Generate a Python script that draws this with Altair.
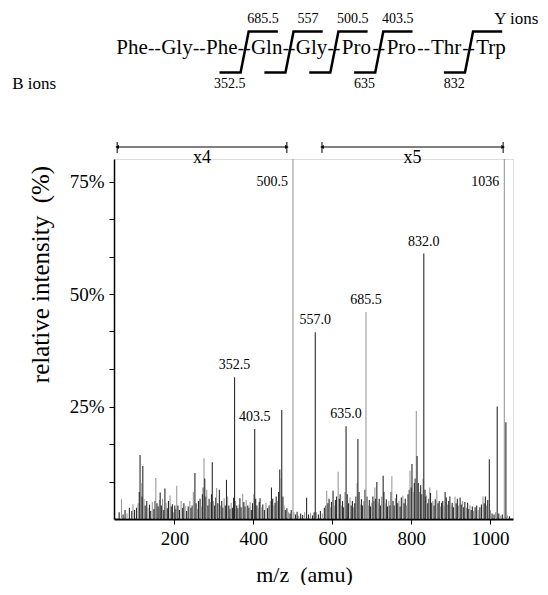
import altair as alt
import pandas as pd

# ---------------- spectrum data ----------------
noise_mz = [60, 66, 70, 75, 80, 86, 92, 95, 99, 104, 108, 111, 113, 116, 118, 120, 123, 126, 130, 133,
            137, 140, 144, 148, 151, 153, 156, 159, 162, 164, 167, 170, 173, 176, 179, 182, 185, 189, 192, 195,
            198, 201, 204, 206, 209, 213, 217, 221, 224, 227, 231, 235, 239, 242, 245, 248, 252, 255, 258, 261,
            265, 268, 271, 273, 275, 277, 280, 282, 285, 288, 291, 294, 296, 299, 302, 305, 307, 310, 314, 317,
            320, 323, 326, 329, 332, 335, 338, 341, 344, 347, 350, 355, 358, 361, 364, 366, 369, 373, 376, 379,
            382, 386, 389, 392, 395, 398, 401, 406, 409, 412, 415, 417, 420, 424, 428, 432, 436, 440, 443, 446,
            449, 452, 455, 458, 461, 464, 467, 470, 472, 475, 478, 481, 485, 489, 493, 496, 503, 507, 511, 515,
            520, 525, 530, 535, 540, 545, 550, 554, 560, 565, 570, 575, 580, 584, 586, 589, 592, 595, 598, 602,
            605, 608, 611, 615, 618, 620, 623, 626, 629, 632, 638, 641, 645, 648, 651, 654, 657, 660, 663, 665,
            668, 671, 674, 677, 680, 683, 688, 691, 694, 697, 700, 703, 706, 708, 710, 713, 716, 719, 722, 725,
            729, 731, 734, 737, 740, 743, 746, 749, 751, 754, 757, 760, 763, 766, 769, 772, 775, 779, 782, 785,
            788, 792, 795, 797, 800, 802, 805, 808, 810, 813, 815, 818, 821, 824, 827, 830, 835, 837, 839, 842,
            845, 847, 849, 852, 855, 858, 861, 865, 868, 871, 874, 877, 880, 883, 886, 889, 892, 895, 898, 901,
            904, 907, 911, 914, 917, 920, 924, 927, 930, 933, 936, 940, 943, 946, 949, 952, 955, 958, 962, 966,
            970, 974, 978, 982, 985, 988, 991, 994, 998, 1001, 1005, 1010, 1014, 1018, 1022, 1027, 1031, 1040, 1044, 1049]
noise_int = [1.5, 4.4, 1.0, 2.0, 1.2, 2.5, 1.8, 3.3, 2.0, 2.5, 3.5, 6.0, 14.2, 8.0, 5.0, 11.8, 4.5, 3.0, 4.0, 2.5,
             3.2, 1.8, 3.8, 2.2, 4.0, 9.1, 3.5, 2.8, 4.2, 5.9, 3.0, 4.5, 2.0, 6.8, 3.6, 2.4, 4.0, 5.2, 2.8, 3.3,
             1.5, 3.0, 2.2, 7.4, 3.0, 2.0, 4.0, 2.5, 3.5, 3.0, 1.8, 2.8, 4.0, 2.5, 3.0, 6.0, 10.2, 3.5, 2.2, 4.0,
             4.5, 2.8, 5.5, 7.0, 13.5, 9.0, 5.0, 6.5, 3.0, 4.5, 3.8, 5.5, 12.6, 4.0, 3.0, 4.8, 6.9, 3.5, 6.5, 3.0,
             4.0, 2.5, 4.6, 3.0, 8.7, 5.0, 3.0, 2.2, 3.6, 2.5, 4.7, 4.0, 3.0, 2.4, 3.2, 4.6, 2.6, 5.6, 3.8, 2.8,
             4.2, 3.0, 2.5, 3.8, 2.0, 3.5, 5.5, 4.5, 3.0, 2.4, 3.8, 4.6, 2.6, 3.2, 2.0, 3.6, 2.4, 3.0, 4.0, 7.0,
             4.5, 3.0, 3.6, 5.0, 4.0, 6.0, 11.0, 9.0, 24.2, 5.0, 3.0, 2.0, 2.4, 1.5, 1.2, 2.0, 1.5, 1.0, 1.6, 0.8,
             1.2, 0.9, 1.5, 4.7, 1.0, 1.4, 0.8, 1.5, 1.5, 1.0, 1.8, 1.2, 2.5, 3.0, 6.3, 3.5, 4.5, 2.6, 3.8, 6.3,
             3.0, 4.2, 5.0, 10.5, 4.5, 5.5, 3.0, 4.0, 2.6, 6.0, 5.5, 3.5, 4.8, 3.0, 4.0, 2.6, 3.5, 5.0, 8.0, 17.8,
             6.0, 3.2, 4.4, 3.0, 4.0, 6.5, 5.0, 3.0, 4.2, 2.8, 3.6, 5.0, 4.0, 7.0, 4.5, 8.2, 3.6, 4.5, 3.0, 5.0,
             9.6, 6.0, 3.5, 4.4, 2.8, 4.0, 3.0, 6.0, 9.5, 4.0, 3.0, 4.6, 5.5, 3.5, 4.0, 2.8, 4.8, 5.2, 3.5, 4.5,
             3.0, 5.5, 6.5, 10.7, 7.0, 12.2, 6.0, 8.0, 9.0, 24.0, 14.0, 8.0, 6.0, 7.5, 5.5, 9.0, 6.5, 5.0, 5.2, 3.5,
             4.5, 7.0, 5.8, 3.6, 4.0, 3.0, 4.4, 6.4, 3.5, 4.0, 2.8, 3.6, 4.0, 3.0, 6.0, 4.8, 3.2, 4.0, 5.0, 3.0,
             3.6, 2.6, 5.0, 3.5, 4.5, 3.0, 4.8, 3.2, 4.0, 2.6, 3.8, 2.5, 3.6, 2.2, 3.0, 2.0, 2.8, 1.8, 2.6, 3.0,
             2.0, 2.6, 3.2, 5.0, 3.5, 5.0, 3.0, 4.2, 13.3, 2.0, 1.2, 1.0, 1.5, 25.0, 1.2, 0.8, 1.0, 21.5, 0.8, 0.6]

peak_mz = [352.5, 403.5, 500.5, 557.0, 635.0, 685.5, 832.0, 1036.0]
peak_int = [31.5, 20.0, 100.0, 41.5, 20.6, 46.0, 59.0, 100.0]
peak_tone = ["dark", "dark", "light", "dark", "dark", "light", "dark", "light"]

label_mz = [352.5, 403.5, 557.0, 635.0, 685.5, 832.0]
label_int = [31.5, 20.0, 41.5, 20.6, 46.0, 59.0]
label_txt = ["352.5", "403.5", "557.0", "635.0", "685.5", "832.0"]
off_mz = [500.5, 1036.0]
off_txt = ["500.5", "1036"]

bracket_start = [55, 574]
bracket_end = [485, 1033]
bracket_txt = ["x4", "x5"]

y_ticks = [8.333, 16.667, 25, 33.333, 41.667, 50, 58.333, 66.667, 75]
x_ticks = [200, 400, 600, 800, 1000]

# ---------------- peptide diagram data ----------------
residues = ["Phe", "Gly", "Phe", "Gln", "Gly", "Pro", "Pro", "Thr", "Trp"]
bonds = [2.5, 3.5, 4.5, 5.5, 7.5]
y_ion = ["685.5", "557", "500.5", "403.5", ""]
b_ion = ["352.5", "", "", "635", "832"]

FONT = "Liberation Serif"

spec_df = pd.DataFrame({
    "mz": noise_mz + peak_mz,
    "inten": noise_int + peak_int,
    "tone": [("dark" if i % 3 != 1 else "light") for i in range(len(noise_mz))] + peak_tone,
})
lab_df = pd.DataFrame({"mz": label_mz, "inten": label_int, "txt": label_txt})
off_df = pd.DataFrame({"mz": off_mz, "txt": off_txt, "inten": [75] * len(off_mz)})
br_df = pd.DataFrame({"s": bracket_start, "e": bracket_end, "txt": bracket_txt})
br_df["mid"] = (br_df["s"] + br_df["e"]) / 2

xs = alt.Scale(domain=[47, 1058], nice=False, zero=False)
ys = alt.Scale(domain=[0, 80], nice=False)

spectrum = alt.Chart(spec_df).mark_rule(clip=True, strokeWidth=1.1).encode(
    x=alt.X("mz:Q", scale=xs, axis=alt.Axis(
        values=x_ticks, format="d", title="m/z\u00a0\u00a0(amu)", labelFont=FONT, labelFontSize=19,
        titleFont=FONT, titleFontSize=22, titleFontWeight="normal", tickSize=5,
        labelPadding=5, tickColor="black", domainColor="black", domainWidth=1.8,
        labelColor="black", titleColor="black", titleX=190, titleY=55,
        titleBaseline="middle", grid=False)),
    y=alt.Y("inten:Q", scale=ys, axis=alt.Axis(
        values=y_ticks, labelExpr="datum.value % 25 === 0 ? datum.value + '%' : ''",
        title="relative intensity\u00a0\u00a0(%)", labelFont=FONT, labelFontSize=19,
        titleFont=FONT, titleFontSize=25, titleFontWeight="normal", tickSize=5,
        labelPadding=5, tickColor="black", domainColor="black", domainWidth=1.5,
        labelColor="black", titleColor="black", titleX=-74, titleY=115, titleLimit=400,
        titleAngle=-90, titleAlign="center", titleBaseline="middle", grid=False)),
    y2=alt.datum(0),
    color=alt.Color("tone:N", scale=alt.Scale(domain=["dark", "light"], range=["#2a2a2a", "#9a9a9a"]), legend=None),
)

labels = alt.Chart(lab_df).mark_text(font=FONT, fontSize=14, baseline="middle", dy=-12, color="black").encode(
    x=alt.X("mz:Q", scale=xs, axis=None), y=alt.Y("inten:Q", scale=ys, axis=None), text="txt:N")
off_labels = alt.Chart(off_df).mark_text(font=FONT, fontSize=14, baseline="middle", align="right", dx=-5, color="black").encode(
    x=alt.X("mz:Q", scale=xs, axis=None), y=alt.Y("inten:Q", scale=ys, axis=None), text="txt:N")

br_line = alt.Chart(br_df).mark_rule(color="black", strokeWidth=1).encode(
    x=alt.X("s:Q", scale=xs, axis=None), x2="e:Q", y=alt.value(-12))
br_end1 = alt.Chart(br_df).mark_rule(color="black", strokeWidth=1).encode(
    x=alt.X("s:Q", scale=xs, axis=None), y=alt.value(-17), y2=alt.value(-6))
br_end2 = alt.Chart(br_df).mark_rule(color="black", strokeWidth=1).encode(
    x=alt.X("e:Q", scale=xs, axis=None), y=alt.value(-17), y2=alt.value(-6))
br_arr1 = alt.Chart(br_df).mark_point(shape="triangle-left", filled=True, size=18, color="black", opacity=1, dx=3).encode(
    x=alt.X("s:Q", scale=xs, axis=None), y=alt.value(-12))
br_arr2 = alt.Chart(br_df).mark_point(shape="triangle-right", filled=True, size=18, color="black", opacity=1, dx=-3).encode(
    x=alt.X("e:Q", scale=xs, axis=None), y=alt.value(-12))
br_txt = alt.Chart(br_df).mark_text(font=FONT, fontSize=18, baseline="middle", color="black").encode(
    x=alt.X("mid:Q", scale=xs, axis=None), y=alt.value(-1), text="txt:N")

# peptide diagram, own scales
px = alt.Scale(domain=[0, 8], range=[18, 377])
py = alt.Scale(domain=[-1, 1], range=[-70, -152])
LOW, HIGH, YLAB, BLAB = -0.6, 0.4, 0.7, -0.88

res_df = pd.DataFrame({"i": list(range(len(residues))), "r": residues, "lvl": 0.0})
dash_df = pd.DataFrame({"i": [k + 0.5 for k in range(len(residues) - 1)], "r": "--", "lvl": 0.0})
pts = []
for k, b in enumerate(bonds):
    pts += [
        {"id": k, "o": 0, "x": b - 0.55, "y": LOW},
        {"id": k, "o": 1, "x": b - 0.08, "y": LOW},
        {"id": k, "o": 2, "x": b + 0.1, "y": HIGH},
        {"id": k, "o": 3, "x": b + 0.75, "y": HIGH},
    ]
mark_df = pd.DataFrame(pts)
ylab_df = pd.DataFrame({"x": [b + 0.42 for b in bonds], "t": y_ion, "lvl": YLAB})
blab_df = pd.DataFrame({"x": [b - 0.32 for b in bonds], "t": b_ion, "lvl": BLAB})
ion_df = pd.DataFrame({"x": [8.07, -2.67], "t": ["Y ions", "B ions"], "lvl": [YLAB, BLAB]})

res_t = alt.Chart(res_df).mark_text(font=FONT, fontSize=21, baseline="middle", color="black").encode(
    x=alt.X("i:Q", scale=px, axis=None), y=alt.Y("lvl:Q", scale=py, axis=None), text="r:N")
dash_t = alt.Chart(dash_df).mark_text(font=FONT, fontSize=19, baseline="middle", color="black").encode(
    x=alt.X("i:Q", scale=px, axis=None), y=alt.Y("lvl:Q", scale=py, axis=None), text="r:N")
marks = alt.Chart(mark_df).mark_line(color="black", strokeWidth=2.5, strokeJoin="miter").encode(
    x=alt.X("x:Q", scale=px, axis=None), y=alt.Y("y:Q", scale=py, axis=None), detail="id:N", order="o:Q")
ylab_t = alt.Chart(ylab_df).mark_text(font=FONT, fontSize=14, baseline="middle", color="black").encode(
    x=alt.X("x:Q", scale=px, axis=None), y=alt.Y("lvl:Q", scale=py, axis=None), text="t:N")
blab_t = alt.Chart(blab_df).mark_text(font=FONT, fontSize=14, baseline="middle", color="black").encode(
    x=alt.X("x:Q", scale=px, axis=None), y=alt.Y("lvl:Q", scale=py, axis=None), text="t:N")
ion_t = alt.Chart(ion_df).mark_text(font=FONT, fontSize=17, baseline="middle", align="left", color="black").encode(
    x=alt.X("x:Q", scale=px, axis=None), y=alt.Y("lvl:Q", scale=py, axis=None), text="t:N")

chart = alt.layer(
    spectrum, labels, off_labels, br_line, br_end1, br_end2, br_arr1, br_arr2, br_txt,
    res_t, dash_t, marks, ylab_t, blab_t, ion_t,
).resolve_scale(x="independent", y="independent").properties(
    width=399, height=360,
    autosize=alt.AutoSizeParams(type="none"),
    padding={"left": 106, "top": 151, "right": 27, "bottom": 66},
).configure_view(stroke=None).configure(background="white")

chart.save("out.html", embed_options={"renderer": "svg", "actions": False})
